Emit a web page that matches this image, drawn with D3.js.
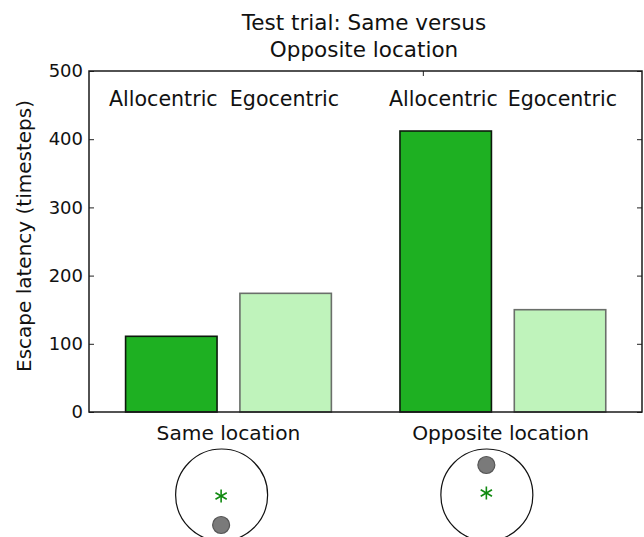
<!DOCTYPE html>
<html>
<head>
<meta charset="utf-8">
<script src="https://cdn.jsdelivr.net/npm/d3@7"></script>
<style>
  html, body { margin: 0; padding: 0; background: #fff; }
  svg { display: block; font-family: "DejaVu Sans", sans-serif; }
</style>
</head>
<body>
<svg id="chart" width="644" height="537"></svg>
<script>
// Escape latency (timesteps) per test condition
const groups = ["Same location", "Opposite location"];
const strategies = ["Allocentric", "Egocentric"];
const allocentric = [111, 412];
const egocentric = [174, 150];
const yTicks = [0, 100, 200, 300, 400, 500];
const titleLines = ["Test trial: Same versus", "Opposite location"];

// bar left edges in axis units (width 0.8), grouped per location
const barLeft = [[0, 1], [2.4, 3.4]];
const barWidth = 0.8;
const strategyLabelX = [[0.33, 1.39], [2.78, 3.82]];
const groupLabelX = [0.9, 3.28];
// arena sketches: platform position relative to the start (asterisk)
const arenaX = [0.84, 3.16];
const platformSide = [1, -1];

const svg = d3.select("#chart");
const m = { left: 89, right: 642, top: 71, bottom: 412 };

const x = d3.scaleLinear().domain([-0.32, 4.517]).range([m.left, m.right]);
const y = d3.scaleLinear().domain([0, 500]).range([m.bottom, m.top]);

const fillColor = { Allocentric: "#1eb022", Egocentric: "#bff3bb" };
const edgeColor = { Allocentric: "#0d1a0d", Egocentric: "#6a6f6a" };

// inward ticks on all four sides
const ax = svg.append("g").attr("class", "axes");
ax.append("g").attr("transform", `translate(0,${m.bottom})`)
  .call(d3.axisBottom(x).tickValues([2.6]).tickSize(-5).tickFormat(""));
ax.append("g").attr("transform", `translate(0,${m.top})`)
  .call(d3.axisTop(x).tickValues([2.6]).tickSize(-5).tickFormat(""));
ax.append("g").attr("transform", `translate(${m.right},0)`)
  .call(d3.axisRight(y).tickValues(yTicks).tickSize(-5).tickFormat(""));
ax.append("g").attr("transform", `translate(${m.left},0)`)
  .call(d3.axisLeft(y).tickValues(yTicks).tickSize(-5).tickPadding(6))
  .selectAll("text").attr("font-size", 18).attr("fill", "#111")
  .attr("font-family", "DejaVu Sans");
ax.selectAll(".domain").remove();
ax.selectAll(".tick line").attr("stroke", "#222").attr("stroke-width", 1);

// bars
const bars = [];
groups.forEach((g, gi) => {
  bars.push({ strategy: "Allocentric", left: barLeft[gi][0], value: allocentric[gi] });
  bars.push({ strategy: "Egocentric", left: barLeft[gi][1], value: egocentric[gi] });
});
svg.append("g").selectAll("rect").data(bars).join("rect")
  .attr("x", d => x(d.left))
  .attr("y", d => y(d.value))
  .attr("width", d => x(d.left + barWidth) - x(d.left))
  .attr("height", d => y(0) - y(d.value))
  .attr("fill", d => fillColor[d.strategy])
  .attr("stroke", d => edgeColor[d.strategy])
  .attr("stroke-width", 1.6);

// frame
svg.append("rect")
  .attr("x", m.left).attr("y", m.top)
  .attr("width", m.right - m.left).attr("height", m.bottom - m.top)
  .attr("fill", "none").attr("stroke", "#1a1a1a").attr("stroke-width", 1.5);

// strategy labels inside the axes
groups.forEach((g, gi) => {
  strategies.forEach((s, si) => {
    svg.append("text")
      .attr("x", x(strategyLabelX[gi][si])).attr("y", 105.5)
      .attr("text-anchor", "middle").attr("font-size", 20.6).attr("fill", "#111")
      .text(s);
  });
  svg.append("text")
    .attr("x", x(groupLabelX[gi])).attr("y", 440)
    .attr("text-anchor", "middle").attr("font-size", 20.2).attr("fill", "#111")
    .text(g);
});

// title
svg.append("text").attr("x", 364).attr("y", 30)
  .attr("text-anchor", "middle").attr("font-size", 21.5).attr("fill", "#111")
  .selectAll("tspan").data(titleLines).join("tspan")
  .attr("x", 364).attr("dy", (d, i) => i === 0 ? 0 : 26.5).text(d => d);

// y-axis label
svg.append("text")
  .attr("transform", `translate(31,236) rotate(-90)`)
  .attr("text-anchor", "middle").attr("font-size", 20).attr("fill", "#111")
  .text("Escape latency (timesteps)");

// arena sketches
const defs = svg.append("defs");
defs.append("filter").attr("id", "soft")
  .append("feGaussianBlur").attr("stdDeviation", 0.7);

const arenaR = 46;
arenaX.forEach((ac, i) => {
  const cx = x(ac), cy = 495;
  const g = svg.append("g");
  g.append("circle").attr("cx", cx).attr("cy", cy).attr("r", arenaR)
    .attr("fill", "none").attr("stroke", "#111").attr("stroke-width", 1.2);
  // start point
  const sx = cx - 0.5, sy = cy + (i === 0 ? 1 : -2), s = 6.5;
  [90, 30, 150].forEach(a => {
    const r = a * Math.PI / 180;
    g.append("line")
      .attr("x1", sx - s * Math.cos(r)).attr("y1", sy - s * Math.sin(r))
      .attr("x2", sx + s * Math.cos(r)).attr("y2", sy + s * Math.sin(r))
      .attr("stroke", "#118a11").attr("stroke-width", 1.6);
  });
  // platform
  g.append("circle").attr("cx", cx - 0.5).attr("cy", cy + platformSide[i] * 30)
    .attr("r", 8.5).attr("fill", "#7a7a7a").attr("stroke", "#555")
    .attr("stroke-width", 1.2).attr("filter", "url(#soft)");
});
</script>
</body>
</html>
